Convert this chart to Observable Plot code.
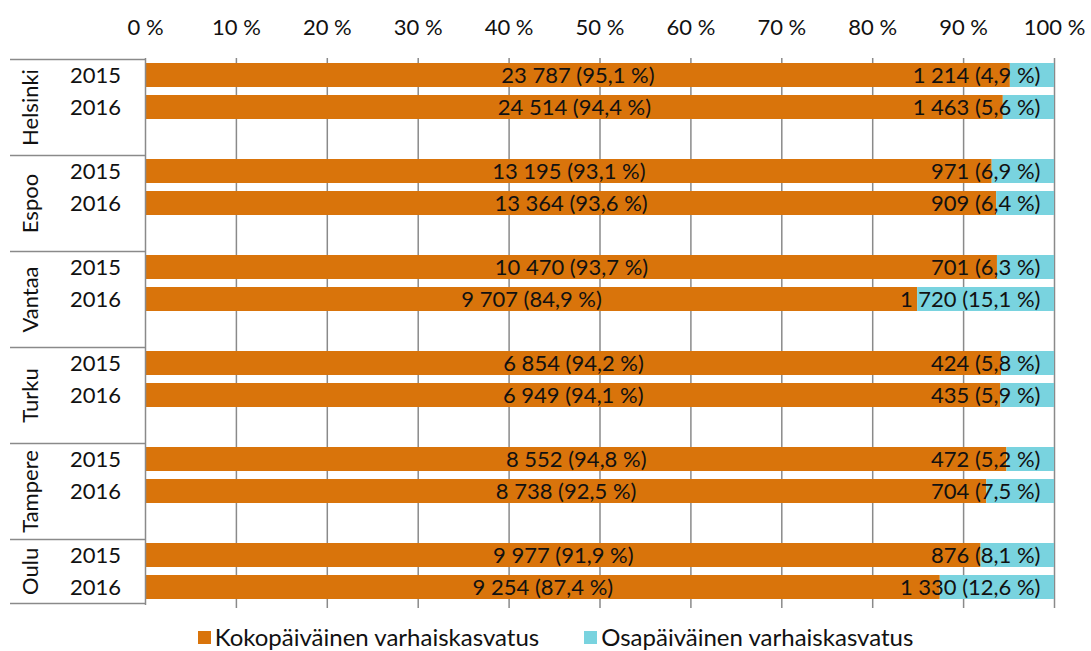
<!DOCTYPE html>
<html>
<head>
<meta charset="utf-8">
<script src="https://cdn.jsdelivr.net/npm/d3@7"></script>
<script src="https://cdn.jsdelivr.net/npm/@observablehq/plot@0.6"></script>
<style>
  html, body { margin: 0; padding: 0; background: #fff; }
  body { width: 1091px; height: 651px; overflow: hidden; font-family: Lato, sans-serif; color: #111; }
  #legend { display: flex; justify-content: center; gap: 45px; font-size: 24px; padding-top: 6px; padding-left: 20px; line-height: 32px; }
  #legend .item { display: flex; align-items: center; }
  #legend .sw { width: 13px; height: 13px; margin-right: 4px; display: inline-block; }
</style>
</head>
<body>
<div id="chart"></div>
<div id="legend"></div>
<script>
const cities = ["Helsinki", "Espoo", "Vantaa", "Turku", "Tampere", "Oulu"];
const years = ["2015", "2016"];
const seriesNames = ["Kokopäiväinen varhaiskasvatus", "Osapäiväinen varhaiskasvatus"];
const seriesColors = ["#D9740B", "#79D3DF"];
// order: Helsinki 2015, Helsinki 2016, Espoo 2015, ...
const fullDay = [23787, 24514, 13195, 13364, 10470, 9707, 6854, 6949, 8552, 8738, 9977, 9254];
const fullPct = [95.1, 94.4, 93.1, 93.6, 93.7, 84.9, 94.2, 94.1, 94.8, 92.5, 91.9, 87.4];
const partDay = [1214, 1463, 971, 909, 701, 1720, 424, 435, 472, 704, 876, 1330];
const partPct = [4.9, 5.6, 6.9, 6.4, 6.3, 15.1, 5.8, 5.9, 5.2, 7.5, 8.1, 12.6];
const xTickLabels = [0, 10, 20, 30, 40, 50, 60, 70, 80, 90, 100];

const loc = d3.formatLocale({decimal: ",", thousands: "\u00a0", grouping: [3], currency: ["", ""]});
const fmtInt = loc.format(",d");
const fmtPct = loc.format(".1f");

const records = [];
const rowDomain = [];
cities.forEach((c, ci) => {
  years.forEach((y, yi) => {
    const i = ci * 2 + yi;
    const row = c + "|" + y;
    rowDomain.push(row);
    records.push({city: c, year: y, row, type: seriesNames[0], value: fullDay[i], label: `${fmtInt(fullDay[i])} (${fmtPct(fullPct[i])} %)`});
    records.push({city: c, year: y, row, type: seriesNames[1], value: partDay[i], label: `${fmtInt(partDay[i])} (${fmtPct(partPct[i])} %)`});
  });
  if (ci < cities.length - 1) rowDomain.push(c + "|gap");
});
const yearRows = cities.flatMap(c => years.map(y => ({city: c, year: y, row: c + "|" + y})));
const cityRowsMain = cities.slice(0, -1).map(c => ({city: c, row: c + "|2016"}));
const cityRowsLast = cities.slice(-1).map(c => ({city: c, row: c + "|2016"}));
const gapRows = cities.slice(0, -1).map(c => c + "|gap");

const H = 615, mTop = 58, mBot = 10;
const step = (H - mTop - mBot) / rowDomain.length;
const half = step / 2;
const leftX = -0.1485;
const gray = "#8a8a8a";

const chart = Plot.plot({
  width: 1091,
  height: H,
  marginTop: mTop,
  marginBottom: mBot,
  marginLeft: 145,
  marginRight: 37,
  style: {fontFamily: "Lato, sans-serif", fontSize: "22px", color: "#111", background: "#fff", overflow: "visible"},
  x: {domain: [0, 1], axis: null},
  y: {domain: rowDomain, paddingInner: 0.24, paddingOuter: 0.12, axis: null},
  color: {domain: seriesNames, range: seriesColors},
  marks: [
    Plot.gridX({ticks: xTickLabels.slice(1).map(t => t / 100), stroke: gray, strokeOpacity: 1, strokeWidth: 1.5, insetBottom: -3}),
    Plot.axisX({anchor: "top", label: null, ticks: xTickLabels.map(t => t / 100), tickFormat: d => `${Math.round(d * 100)} %`, tickSize: 0, tickPadding: 24, fontSize: 22, fill: "#111"}),
    Plot.barX(records, Plot.stackX({x: "value", y: "row", fill: "type", offset: "normalize"})),
    Plot.text(records, Plot.stackX({x: "value", y: "row", z: "type", offset: "normalize",
      text: d => d.type === seriesNames[0] ? d.label : null, fill: "#111", fontSize: 22})),
    Plot.text(records, Plot.stackX2({x: "value", y: "row", z: "type", offset: "normalize",
      text: d => d.type === seriesNames[1] ? d.label : null, textAnchor: "end", dx: -14, fill: "#111", fontSize: 22})),
    Plot.ruleX([0], {stroke: gray, strokeWidth: 1.5}),
    // category box lines on the left
    Plot.ruleY(gapRows, {y: d => d, x1: leftX, x2: 0, dy: half, stroke: gray, strokeWidth: 1.5}),
    Plot.ruleY([rowDomain[0]], {y: d => d, x1: leftX, x2: 0, dy: -half, stroke: gray, strokeWidth: 1.5}),
    Plot.ruleY([rowDomain[rowDomain.length - 1]], {y: d => d, x1: leftX, x2: 0, dy: half, stroke: gray, strokeWidth: 1.5}),
    Plot.text(yearRows, {x: 0, y: "row", text: "year", dx: -50, textAnchor: "middle", fill: "#111", fontSize: 22}),
    Plot.text(cityRowsMain, {x: 0, y: "row", text: "city", dx: -115, rotate: -90, textAnchor: "middle", fill: "#111", fontSize: 22}),
    Plot.text(cityRowsLast, {x: 0, y: "row", text: "city", dx: -115, dy: -half, rotate: -90, textAnchor: "middle", fill: "#111", fontSize: 22})
  ]
});
document.getElementById("chart").appendChild(chart);

const legend = document.getElementById("legend");
seriesNames.forEach((n, i) => {
  const item = document.createElement("div");
  item.className = "item";
  const sw = document.createElement("span");
  sw.className = "sw";
  sw.style.background = seriesColors[i];
  const t = document.createElement("span");
  t.textContent = n;
  item.appendChild(sw);
  item.appendChild(t);
  legend.appendChild(item);
});
</script>
</body>
</html>
